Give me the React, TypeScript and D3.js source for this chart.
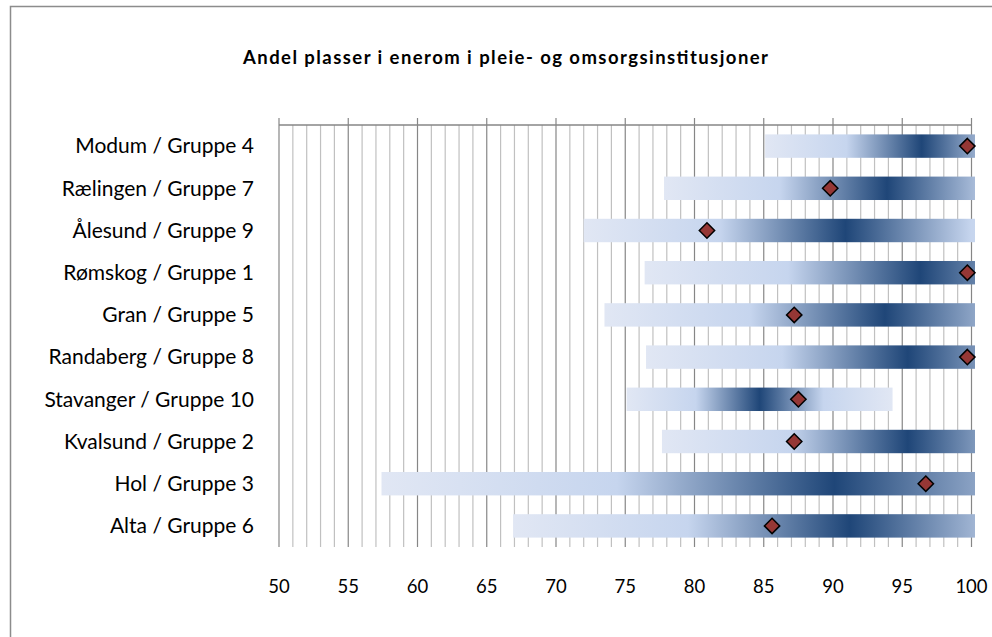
import React from "react";
import * as d3 from "d3";

const categories = [
  "Modum / Gruppe 4",
  "Rælingen / Gruppe 7",
  "Ålesund / Gruppe 9",
  "Rømskog / Gruppe 1",
  "Gran / Gruppe 5",
  "Randaberg / Gruppe 8",
  "Stavanger / Gruppe 10",
  "Kvalsund / Gruppe 2",
  "Hol / Gruppe 3",
  "Alta / Gruppe 6",
];
// lower end of the group band
const lower = [85.1, 77.8, 72.0, 76.4, 73.5, 76.5, 75.1, 77.65, 57.4, 66.9];
// centre (darkest point) of the group band
const center = [96.4, 93.9, 90.9, 96.3, 93.75, 95.4, 84.7, 95.4, 90.1, 91.2];
// municipality value (diamond)
const values = [99.7, 89.8, 80.9, 99.7, 87.2, 99.7, 87.5, 87.2, 96.7, 85.6];
const xTicks = [50, 55, 60, 65, 70, 75, 80, 85, 90, 95, 100];
const title = "Andel plasser i enerom i pleie- og omsorgsinstitusjoner";

const W = 992;
const H = 637;
const plotTop = 125;
const plotBottom = 547;
const plotRight = 975;

export default function App() {
  const x = d3.scaleLinear().domain([50, 100]).range([279, 971.5]);
  const y = d3
    .scaleBand<string>()
    .domain(categories)
    .range([plotTop, plotBottom])
    .paddingInner(0.445)
    .paddingOuter(0.2225);
  const minor = d3.range(50, 101, 1).filter((v) => v % 5 !== 0);
  const font = "Lato, 'Open Sans', sans-serif";
  const diamond = d3.symbol().type(d3.symbolDiamond2).size(150)();

  return (
    <svg
      width={W}
      height={H}
      style={{ position: "absolute", left: 0, top: 0, background: "#fff" }}
    >
      <defs>
        <clipPath id="plotClip">
          <rect x={0} y={0} width={plotRight} height={H} />
        </clipPath>
        {categories.map((c, i) => {
          const up = 2 * center[i] - lower[i];
          return (
            <linearGradient
              key={c}
              id={`grad${i}`}
              gradientUnits="userSpaceOnUse"
              x1={x(lower[i])}
              x2={x(up)}
              y1={0}
              y2={0}
            >
              <stop offset="0" stopColor="#e1e7f4" />
              <stop offset="0.26" stopColor="#c6d5ee" />
              <stop offset="0.5" stopColor="#1f4678" />
              <stop offset="0.74" stopColor="#c6d5ee" />
              <stop offset="1" stopColor="#e1e7f4" />
            </linearGradient>
          );
        })}
      </defs>

      {/* outer chart frame */}
      <rect
        x={10.5}
        y={6.5}
        width={W + 20}
        height={H + 20}
        fill="none"
        stroke="#8c8c8c"
        strokeWidth={1.5}
      />

      <text
        x={505.5}
        y={64}
        textAnchor="middle"
        fontFamily={font}
        fontWeight="bold"
        fontSize={18.5}
        textLength={525}
        lengthAdjust="spacing"
        fill="#000"
      >
        {title}
      </text>

      {/* minor gridlines */}
      {minor.map((v) => (
        <line
          key={`m${v}`}
          x1={x(v)}
          x2={x(v)}
          y1={plotTop}
          y2={plotBottom}
          stroke="#c0c0c0"
          strokeWidth={1.2}
        />
      ))}
      {/* major gridlines */}
      {xTicks.map((v) => (
        <line
          key={`M${v}`}
          x1={x(v)}
          x2={x(v)}
          y1={plotTop - 7}
          y2={plotBottom}
          stroke="#868686"
          strokeWidth={1.2}
        />
      ))}
      {/* top axis line */}
      <line
        x1={x(50)}
        x2={x(100)}
        y1={plotTop}
        y2={plotTop}
        stroke="#868686"
        strokeWidth={1.5}
      />

      {/* bars */}
      <g clipPath="url(#plotClip)">
        {categories.map((c, i) => {
          const up = 2 * center[i] - lower[i];
          return (
            <rect
              key={c}
              x={x(lower[i])}
              y={y(c)}
              width={x(up) - x(lower[i])}
              height={y.bandwidth()}
              fill={`url(#grad${i})`}
            />
          );
        })}
      </g>

      {/* markers */}
      {categories.map((c, i) => (
        <path
          key={c}
          d={diamond || ""}
          transform={`translate(${x(values[i])},${(y(c) || 0) + y.bandwidth() / 2})`}
          fill="#953735"
          stroke="#000"
          strokeWidth={1.5}
        />
      ))}

      {/* category labels */}
      {categories.map((c) => (
        <text
          key={c}
          x={254}
          y={(y(c) || 0) + y.bandwidth() / 2}
          dy="0.35em"
          textAnchor="end"
          fontFamily={font}
          fontSize={21}
          fill="#000"
        >
          {c}
        </text>
      ))}

      {/* value labels */}
      {xTicks.map((v) => (
        <text
          key={v}
          x={x(v)}
          y={587}
          dy="0.35em"
          textAnchor="middle"
          fontFamily={font}
          fontSize={18.5}
          fill="#000"
        >
          {v}
        </text>
      ))}
    </svg>
  );
}
